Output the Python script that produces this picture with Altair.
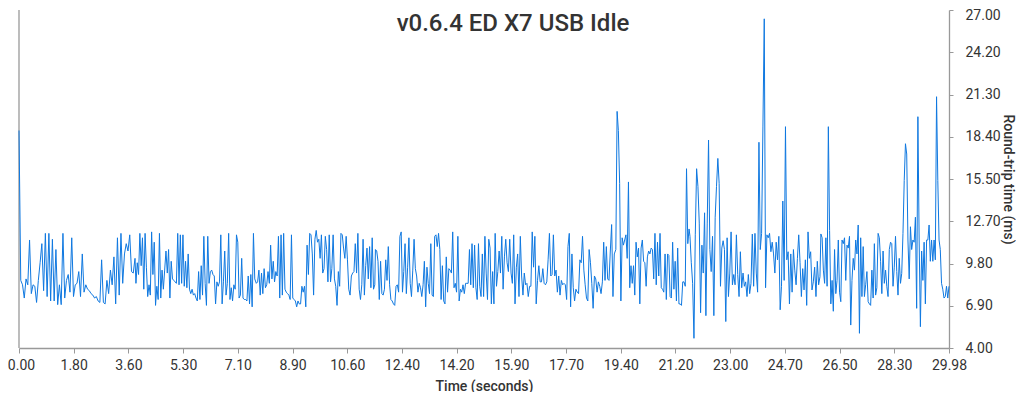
import altair as alt
import numpy as np
import pandas as pd

TITLE = "v0.6.4 ED X7 USB Idle"
X_TITLE = "Time (seconds)"
Y_TITLE = "Round-trip time (ms)"

X_MAX = 29.98
Y_MIN = 4.0
Y_MAX = 27.0

X_TICK_LABELS = ["0.00", "1.80", "3.60", "5.30", "7.10", "8.90", "10.60", "12.40", "14.20",
                 "15.90", "17.70", "19.40", "21.20", "23.00", "24.70", "26.50", "28.30", "29.98"]
Y_TICK_LABELS = ["4.00", "6.90", "9.80", "12.70", "15.50", "18.40", "21.30", "24.20", "27.00"]

# Round-trip samples in eight consecutive time spans (seconds)
SPANS = [(0.00, 3.74), (3.77, 7.60), (7.65, 11.47), (11.49, 15.31),
         (15.35, 19.19), (19.24, 21.60), (21.63, 25.82), (25.85, 29.98)]

SEG_A = [18.8, 8.6, 8.3, 7.4, 8.7, 8.3, 11.35, 7.7, 8.3, 8.2, 7.1, 8.6, 9.8, 11.1, 7.9, 11.8, 7.5,
         11.8, 7.2, 11.4, 7.2, 10.7, 6.95, 8.3, 6.95, 11.8, 7.4, 8.6, 9.0, 7.8, 11.5, 7.5, 8.3, 8.4,
         9.2, 7.5, 10.4, 7.8, 8.3, 8.0, 7.9, 7.7, 7.6, 7.4, 7.5, 7.2, 7.1, 10.0, 7.1, 7.0, 8.6, 7.7,
         9.3, 8.3, 10.2, 7.0, 11.5, 7.6, 11.8, 8.4, 10.4, 11.1, 10.6, 11.7, 9.2, 9.1, 10.1]

SEG_B = [8.4, 9.8, 9.0, 11.8, 9.6, 11.5, 8.0, 11.8, 9.5, 7.5, 8.3, 7.6, 11.9, 9.0, 11.2, 6.9, 8.2,
         7.3, 11.8, 7.4, 9.3, 8.0, 9.3, 10.6, 9.1, 10.7, 7.4, 9.9, 8.7, 8.6, 8.5, 8.4, 11.8, 8.3,
         11.7, 8.4, 11.7, 8.2, 9.9, 8.1, 10.4, 8.0, 7.7, 8.0, 7.6, 7.7, 7.4, 7.2, 9.2, 7.3, 9.6, 7.6,
         11.6, 8.4, 6.9, 11.6, 8.4, 9.2, 9.3, 9.0, 8.9, 7.0, 8.5, 8.2, 8.5, 11.7, 7.0, 8.5, 10.6, 7.6,
         8.4, 11.8, 7.3, 8.1, 7.2, 8.3, 8.0, 11.7, 11.2, 7.4, 7.6, 10.1, 7.4, 7.3, 7.3, 7.2, 8.9, 7.0,
         9.0, 6.8, 11.8, 8.7]

SEG_C = [8.4, 8.5, 9.3, 7.6, 9.1, 7.7, 9.4, 8.1, 8.3, 9.2, 8.4, 11.0, 8.7, 9.9, 8.5, 9.2, 8.9, 11.6,
         7.4, 11.7, 7.6, 11.8, 8.0, 7.8, 7.7, 7.6, 7.3, 11.7, 7.4, 7.3, 7.2, 6.8, 7.2, 7.0, 7.0, 8.2,
         7.8, 8.2, 6.8, 11.0, 9.0, 11.8, 11.7, 10.4, 7.6, 11.4, 12.0, 11.2, 11.4, 10.1, 11.7, 9.1,
         9.4, 11.6, 10.7, 8.5, 11.7, 8.5, 9.4, 11.7, 8.7, 8.2, 6.9, 9.2, 8.2, 11.8, 11.7, 10.8, 10.1,
         11.6, 10.0, 8.0, 7.6, 8.9, 9.1, 9.2, 11.1, 9.1, 11.8, 8.0, 7.3, 8.3, 11.4, 7.6, 9.6, 10.8,
         8.7, 10.9, 8.1, 11.5, 8.0, 8.3]

SEG_D = [10.7, 10.6, 9.9, 7.3, 9.9, 7.7, 7.6, 8.0, 10.0, 8.6, 10.9, 8.3, 7.3, 7.2, 7.0, 6.9, 8.2,
         8.3, 7.8, 11.6, 11.9, 7.8, 9.2, 11.1, 7.7, 9.5, 11.5, 8.4, 7.5, 9.3, 11.4, 9.4, 8.9, 7.8,
         8.4, 8.1, 7.5, 8.3, 9.9, 6.8, 9.5, 8.4, 7.7, 11.1, 7.6, 7.5, 11.6, 11.7, 10.9, 11.8, 10.7,
         7.3, 9.6, 7.2, 7.0, 10.2, 7.8, 9.4, 9.3, 9.1, 11.9, 8.1, 8.4, 7.8, 11.6, 7.2, 8.0, 7.8, 8.3,
         7.7, 8.4, 8.4, 8.4, 10.7, 8.3, 11.1, 8.1, 11.0, 8.1, 7.3, 11.1, 8.2, 7.5, 10.4, 7.5, 11.6,
         9.1, 7.3, 11.4, 10.8, 7.0, 9.2, 7.0]

SEG_E = [11.8, 8.2, 9.2, 10.6, 9.1, 11.6, 8.0, 10.2, 11.4, 9.8, 9.2, 11.4, 9.1, 8.4, 11.7, 7.0,
         9.5, 10.4, 7.5, 11.6, 8.9, 7.6, 9.1, 8.3, 8.4, 7.5, 8.2, 8.2, 11.9, 9.5, 11.6, 7.0, 8.6, 9.6,
         8.5, 8.5, 9.4, 8.4, 8.3, 8.5, 10.0, 11.8, 8.9, 9.0, 11.7, 8.9, 9.3, 7.8, 8.9, 7.6, 8.6, 8.3,
         8.4, 8.3, 7.3, 10.9, 11.8, 6.8, 10.4, 8.1, 7.2, 8.0, 7.8, 7.7, 10.0, 9.8, 11.6, 9.3, 8.3,
         7.4, 7.2, 10.7, 9.8, 8.4, 6.7, 8.9, 8.7, 7.8, 8.5, 8.2, 7.7, 8.5, 11.2, 8.6, 10.9, 8.7, 8.6,
         10.6, 12.4, 7.5, 10.4]

SEG_F = [10.7, 20.1, 18.8, 15.2, 7.2, 11.5, 11.0, 11.35, 11.7, 10.1, 15.3, 8.1, 9.6, 8.4, 9.6,
         7.6, 11.2, 10.2, 10.8, 7.0, 10.8, 11.35, 9.9, 9.8, 8.2, 10.2, 10.6, 10.4, 10.8, 10.7, 8.7,
         11.8, 8.3, 11.2, 8.9, 11.8, 8.1, 8.0, 7.8, 10.4, 7.3, 10.4, 10.3, 7.5, 7.4, 11.2, 8.0, 9.9,
         7.2, 10.8, 7.0, 7.0, 6.9, 8.5, 8.5, 8.2, 16.2, 11.1, 12.1]

SEG_G = [11.6, 9.8, 8.4, 4.66, 11.7, 16.2, 15.0, 12.5, 6.4, 11.0, 9.1, 13.2, 6.2, 12.5, 18.15,
         10.7, 9.2, 11.6, 6.2, 12.9, 15.0, 16.9, 15.2, 8.2, 10.8, 11.3, 10.7, 5.8, 11.5, 7.5, 9.1,
         11.9, 8.3, 9.0, 8.3, 11.7, 9.0, 7.5, 10.55, 8.1, 9.1, 8.2, 8.5, 7.5, 9.0, 7.7, 8.4, 11.75,
         8.2, 11.8, 9.1, 7.8, 18.0, 10.7, 11.8, 19.1, 26.4, 8.1, 11.7, 11.5, 11.8, 10.55, 11.2, 10.4,
         9.1, 11.2, 10.0, 11.6, 6.6, 8.2, 14.0, 8.6, 19.06, 10.0, 10.55, 7.0, 10.4, 7.8, 10.7, 9.3,
         8.3, 10.1, 11.7, 9.8, 7.5, 9.4, 7.95, 10.0, 6.9, 11.9, 10.1, 10.55, 7.95, 8.5, 9.5, 7.5,
         9.9, 8.3, 8.85]

SEG_H = [11.76, 11.5, 9.3, 8.4, 11.5, 8.2, 19.06, 12.0, 7.0, 8.6, 6.5, 10.7, 7.7, 8.6, 11.35, 7.8,
         7.15, 11.35, 11.1, 11.5, 8.6, 11.0, 10.8, 11.6, 5.56, 8.6, 10.1, 9.3, 11.35, 10.4, 12.37,
         5.0, 11.5, 7.5, 10.9, 7.5, 8.3, 9.2, 7.15, 7.0, 6.9, 9.3, 7.4, 11.1, 7.6, 8.1, 11.8, 11.5,
         9.9, 7.7, 10.6, 8.4, 9.3, 8.2, 7.5, 10.7, 11.2, 11.1, 8.2, 9.5, 11.6, 9.2, 7.6, 10.1, 8.4,
         9.08, 11.8, 15.4, 17.9, 17.2, 11.35, 8.7, 12.25, 10.7, 11.35, 11.2, 12.9, 6.7, 19.74, 11.35,
         5.45, 10.6, 8.6, 11.2, 7.0, 11.35, 11.35, 12.37, 9.9, 11.35, 9.9, 11.35, 10.0, 21.1, 15.4,
         11.35, 10.7, 8.4, 8.0, 7.4, 7.5, 8.2, 7.4, 8.2]

SEGMENTS = [SEG_A, SEG_B, SEG_C, SEG_D, SEG_E, SEG_F, SEG_G, SEG_H]

times, values = [], []
for (t0, t1), seg in zip(SPANS, SEGMENTS):
    times.extend(np.linspace(t0, t1, len(seg)).tolist())
    values.extend(seg)
df = pd.DataFrame({"time": times, "rtt": values})

n_x = len(X_TICK_LABELS) - 1
x_step = X_MAX / n_x
x_vals = [round(i * x_step, 6) for i in range(n_x)] + [X_MAX]
n_y = len(Y_TICK_LABELS) - 1
y_step = (Y_MAX - Y_MIN) / n_y
y_vals = [round(Y_MIN + i * y_step, 6) for i in range(n_y)] + [Y_MAX]

x_expr = "[" + ",".join(f"'{s}'" for s in X_TICK_LABELS) + f"][round(datum.value / {x_step})]"
y_expr = "[" + ",".join(f"'{s}'" for s in Y_TICK_LABELS) + f"][round((datum.value - {Y_MIN}) / {y_step})]"

PLOT_W = 930
PLOT_H = 338

line = alt.Chart(df).mark_line(color="#0f78e0", strokeWidth=1).encode(
    x=alt.X("time:Q",
            scale=alt.Scale(domain=[0, X_MAX], nice=False, zero=False),
            axis=alt.Axis(values=x_vals, labelExpr=x_expr, title=X_TITLE,
                          labelFlush=False, labelOverlap=False,
                          labelOffset={"condition": {"test": "datum.value == 0", "value": 2},
                                       "value": 0},
                          tickSize=5, labelPadding=5, titlePadding=7)),
    y=alt.Y("rtt:Q",
            scale=alt.Scale(domain=[Y_MIN, Y_MAX], nice=False, zero=False),
            axis=alt.Axis(orient="right", values=y_vals, labelExpr=y_expr, title=Y_TITLE,
                          labelFlush=False, labelOverlap=False,
                          labelOffset={"condition": {"test": f"datum.value == {Y_MAX}", "value": 5},
                                       "value": 0},
                          tickSize=4, labelPadding=12, titlePadding=0)),
)

left_edge = alt.Chart(pd.DataFrame({"edge": [0]})).mark_rule(color="#999", strokeWidth=1.3).encode(
    x=alt.value(0), y=alt.value(0), y2=alt.value(PLOT_H)
)

chart = alt.layer(left_edge, line).properties(
    width=PLOT_W,
    height=PLOT_H,
    padding={"left": 11, "top": 2, "right": 67, "bottom": 44},
    autosize=alt.AutoSizeParams(type="none"),
    title=alt.TitleParams(TITLE, font="Roboto", fontSize=24, fontWeight=500, color="#333",
                          anchor="middle", frame="group", offset=-47, dx=29,
                          baseline="alphabetic"),
).configure_view(stroke=None).configure_axis(
    grid=False, domainColor="#999", tickColor="#999", domainWidth=1.3,
    labelColor="#333", labelFont="Roboto", labelFontSize=14,
    titleColor="#333", titleFont="Roboto", titleFontSize=14, titleFontWeight=500,
)

chart.save("out.html", embed_options={"renderer": "svg", "actions": False})
